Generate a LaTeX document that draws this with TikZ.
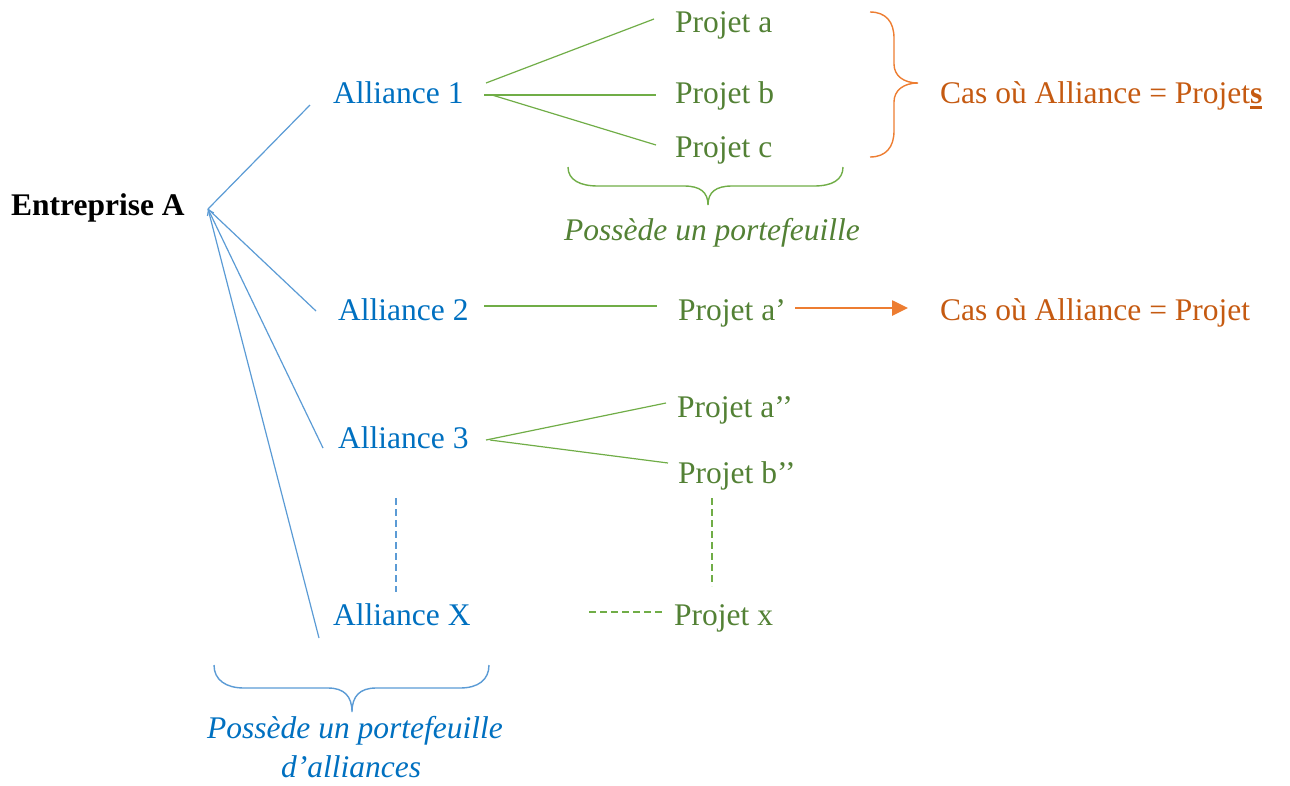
\documentclass[tikz,border=0pt]{standalone}
\usepackage{fontspec}
\setmainfont{Liberation Serif}
\usetikzlibrary{arrows.meta}
\definecolor{bluetext}{HTML}{0070C0}
\definecolor{blueline}{HTML}{5B9BD5}
\definecolor{greentext}{HTML}{538135}
\definecolor{greenline}{HTML}{70AD47}
\definecolor{orangetext}{HTML}{C55A11}
\definecolor{orangeline}{HTML}{ED7D31}
\tikzset{
  lbl/.style={inner sep=0pt, anchor=base west, font=\fontsize{31.5}{37}\selectfont},
  albl/.style={lbl, text=bluetext},
  plbl/.style={lbl, text=greentext},
  olbl/.style={lbl, text=orangetext},
  bline/.style={draw=blueline, line width=1.2pt},
  gline/.style={draw=greenline, line width=1.2pt},
  bdash/.style={draw=blueline, line width=2.2pt, dash pattern=on 7pt off 4pt},
  gdash/.style={draw=greenline, line width=2.2pt, dash pattern=on 7pt off 4pt},
  brace/.style={line width=1.4pt},
}
\begin{document}
\begin{tikzpicture}[x=1pt,y=-1pt]
\useasboundingbox (0,0) rectangle (1290,785);
% nodes
\node[lbl, font=\fontsize{31.5}{37}\selectfont\bfseries] (entA) at (11,215) {Entreprise A};
\node[albl] (al1) at (333,103) {Alliance 1};
\node[albl] (al2) at (338,320) {Alliance 2};
\node[albl] (al3) at (338,448) {Alliance 3};
\node[albl] (alX) at (333,625) {Alliance X};
\node[plbl] (pa) at (675,32) {Projet a};
\node[plbl] (pb) at (675,103) {Projet b};
\node[plbl] (pc) at (675,157) {Projet c};
\node[plbl] (pa1) at (678,320) {Projet a’};
\node[plbl] (pa2) at (677,417) {Projet a’’};
\node[plbl] (pb2) at (678,483) {Projet b’’};
\node[plbl] (px) at (674,625) {Projet x};
\node[olbl] (cas1) at (940,103) {Cas où Alliance = Projet\rlap{\rule[-6pt]{12.3pt}{2.6pt}}\textbf{s}};
\node[olbl] (cas2) at (940,320) {Cas où Alliance = Projet};
\node[plbl, anchor=base, font=\fontsize{31.5}{37}\selectfont\itshape] (port1) at (712,240) {Possède un portefeuille};
\node[albl, anchor=base, font=\fontsize{31.5}{37}\selectfont\itshape] (port2a) at (355,738) {Possède un portefeuille};
\node[albl, anchor=base, font=\fontsize{31.5}{37}\selectfont\itshape] (port2b) at (351,777) {d’alliances};
% connector end points
\coordinate (hub) at (208,209);
\coordinate (e1) at (310,105);
\coordinate (e2) at (316,311);
\coordinate (e3) at (323,448);
\coordinate (eX) at (319,638);
\coordinate (g1) at (486,83);
\coordinate (g1b) at (484,95);
\coordinate (g1c) at (492,95);
\coordinate (ga) at (654,19);
\coordinate (gb) at (656,95);
\coordinate (gc) at (656,145);
\coordinate (g2s) at (484,306);
\coordinate (g2e) at (657,306);
\coordinate (g3a) at (486,440);
\coordinate (g3b) at (490,440);
\coordinate (ga2) at (666,403);
\coordinate (gb2) at (668,463);
\coordinate (bd1) at (396,498);
\coordinate (bd2) at (396,592);
\coordinate (gd1) at (712,498);
\coordinate (gd2) at (712,586);
\coordinate (gh1) at (589,612);
\coordinate (gh2) at (665,612);
\coordinate (arS) at (795,308);
\coordinate (arE) at (908,308);
% blue connectors
\draw[bline] (hub) -- (e1);
\draw[bline] (hub) -- (e2);
\draw[bline, {Straight Barb[length=5pt,width=7pt]}-] (hub) -- (e3);
\draw[bline] (hub) -- (eX);
\draw[bdash] (bd1) -- (bd2);
% green connectors
\draw[gline] (g1) -- (ga);
\draw[gline] (g1b) -- (gb);
\draw[gline] (g1c) -- (gc);
\draw[gline] (g2s) -- (g2e);
\draw[gline] (g3a) -- (ga2);
\draw[gline] (g3b) -- (gb2);
\draw[gdash] (gd1) -- (gd2);
\draw[gdash] (gh1) -- (gh2);
% orange arrow
\draw[draw=orangeline, line width=2.6pt, -{Triangle[length=16pt,width=15pt]}] (arS) -- (arE);
% green brace (bottom of projects)
\draw[greenline, brace] (568,167) .. controls (568,180) and (580,186) .. (598,186)
  -- (684,186) .. controls (700,186) and (708,192) .. (708,205)
  .. controls (708,192) and (716,186) .. (732,186)
  -- (814,186) .. controls (832,186) and (843,180) .. (843,167);
% blue brace (bottom of alliances)
\draw[blueline, brace] (214,665) .. controls (214,680) and (226,688) .. (244,688)
  -- (328,688) .. controls (344,688) and (352,696) .. (352,712)
  .. controls (352,696) and (360,688) .. (376,688)
  -- (460,688) .. controls (478,688) and (489,680) .. (489,665);
% orange brace
\draw[orangeline, brace] (870,12) .. controls (886,12) and (894,22) .. (894,38)
  -- (894,64) .. controls (894,76) and (904,83) .. (918,83)
  .. controls (904,83) and (894,90) .. (894,102)
  -- (894,131) .. controls (894,147) and (886,157) .. (870,157);
\end{tikzpicture}
\end{document}
